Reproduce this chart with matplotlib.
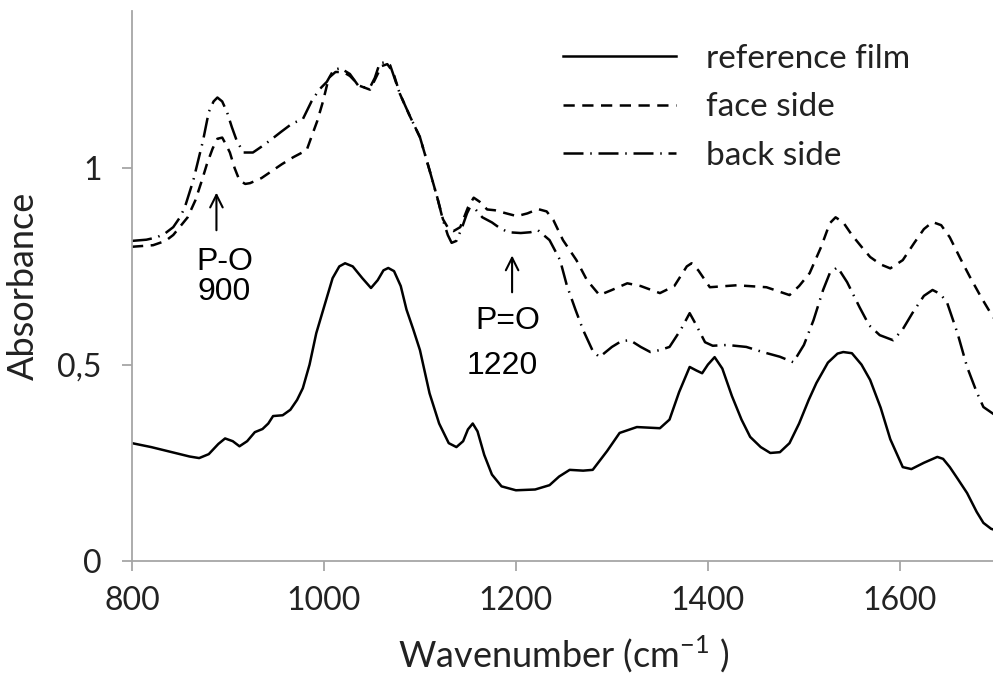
import matplotlib
matplotlib.use("Agg")
import matplotlib.pyplot as plt

# FTIR spectra, wavenumber (cm-1) vs absorbance
ref_x = [800, 820, 840, 860, 870, 880, 890, 897, 905, 912, 920, 928, 936, 942, 947,
         957, 965, 972, 978, 985, 992, 1000, 1009, 1016, 1022, 1030, 1040, 1049, 1056,
         1062, 1067, 1073, 1080, 1086, 1093, 1100, 1110, 1120, 1130, 1138, 1145, 1150,
         1155, 1160, 1167, 1175, 1185, 1200, 1220, 1235, 1245, 1256, 1270, 1280, 1295,
         1308, 1326, 1350, 1360, 1370, 1381, 1388, 1394, 1400, 1407, 1415, 1425, 1435,
         1444, 1455, 1465, 1475, 1485, 1495, 1505, 1513, 1525, 1535, 1541, 1550, 1560,
         1569, 1580, 1590, 1603, 1612, 1625, 1639, 1645, 1652, 1660, 1670, 1680, 1687,
         1695, 1700]
ref_y = [0.300, 0.290, 0.278, 0.266, 0.262, 0.272, 0.298, 0.312, 0.305, 0.292, 0.305,
         0.328, 0.336, 0.350, 0.369, 0.371, 0.385, 0.410, 0.440, 0.500, 0.580, 0.646,
         0.720, 0.750, 0.758, 0.750, 0.720, 0.695, 0.715, 0.740, 0.746, 0.738, 0.700,
         0.640, 0.590, 0.537, 0.427, 0.350, 0.300, 0.290, 0.305, 0.335, 0.350, 0.330,
         0.270, 0.220, 0.190, 0.180, 0.182, 0.193, 0.215, 0.232, 0.230, 0.232, 0.280,
         0.326, 0.341, 0.338, 0.360, 0.430, 0.494, 0.485, 0.478, 0.500, 0.519, 0.490,
         0.420, 0.360, 0.316, 0.290, 0.275, 0.277, 0.300, 0.350, 0.410, 0.453, 0.505,
         0.528, 0.532, 0.529, 0.500, 0.461, 0.390, 0.310, 0.239, 0.234, 0.250, 0.265,
         0.260, 0.239, 0.210, 0.173, 0.125, 0.097, 0.082, 0.078]

face_x = [800, 822, 835, 843, 858, 866, 873, 878, 884, 889, 894, 898, 902, 907, 912,
          918, 923, 935, 944, 956, 968, 982, 987, 993, 999, 1005, 1012, 1020, 1027,
          1037, 1048, 1054, 1060, 1066, 1072, 1079, 1090, 1100, 1110, 1118, 1124, 1130,
          1135, 1142, 1150, 1156, 1162, 1170, 1178, 1190, 1201, 1212, 1223, 1232, 1239,
          1249, 1263, 1274, 1287, 1300, 1316, 1330, 1350, 1365, 1378, 1383, 1390, 1402,
          1430, 1461, 1485, 1495, 1506, 1518, 1527, 1533, 1541, 1550, 1560, 1569, 1580,
          1590, 1603, 1615, 1625, 1634, 1643, 1652, 1663, 1673, 1685, 1697, 1700]
face_y = [0.800, 0.804, 0.815, 0.830, 0.875, 0.918, 0.970, 1.010, 1.050, 1.075, 1.078,
          1.060, 1.040, 1.000, 0.969, 0.960, 0.962, 0.975, 0.990, 1.010, 1.028, 1.046,
          1.080, 1.120, 1.170, 1.230, 1.245, 1.245, 1.235, 1.210, 1.200, 1.230, 1.260,
          1.265, 1.245, 1.190, 1.130, 1.079, 0.995, 0.926, 0.870, 0.845, 0.840, 0.850,
          0.900, 0.925, 0.915, 0.895, 0.893, 0.885, 0.878, 0.885, 0.896, 0.890, 0.868,
          0.817, 0.766, 0.715, 0.677, 0.690, 0.707, 0.700, 0.682, 0.700, 0.750, 0.758,
          0.740, 0.697, 0.702, 0.697, 0.677, 0.700, 0.733, 0.800, 0.860, 0.875, 0.862,
          0.830, 0.800, 0.774, 0.755, 0.745, 0.766, 0.810, 0.845, 0.863, 0.855, 0.824,
          0.770, 0.723, 0.670, 0.621, 0.615]

back_x = [800, 815, 826, 835, 843, 850, 855, 864, 869, 874, 880, 885, 889, 894, 899,
          904, 909, 916, 926, 935, 944, 955, 967, 978, 983, 987, 995, 1003, 1010, 1017,
          1027, 1037, 1048, 1053, 1058, 1064, 1069, 1079, 1090, 1100, 1110, 1118, 1124,
          1129, 1133, 1138, 1144, 1149, 1152, 1158, 1165, 1175, 1183, 1192, 1205, 1215,
          1223, 1235, 1246, 1253, 1262, 1270, 1280, 1287, 1300, 1310, 1319, 1330, 1340,
          1350, 1360, 1372, 1381, 1388, 1397, 1405, 1420, 1440, 1457, 1475, 1489, 1500,
          1510, 1520, 1527, 1535, 1545, 1558, 1568, 1579, 1593, 1603, 1613, 1625, 1634,
          1642, 1649, 1660, 1670, 1680, 1687, 1700]
back_y = [0.815, 0.818, 0.824, 0.835, 0.850, 0.875, 0.900, 0.970, 1.020, 1.070, 1.143,
          1.170, 1.180, 1.170, 1.143, 1.105, 1.071, 1.040, 1.040, 1.055, 1.071, 1.092,
          1.114, 1.125, 1.150, 1.170, 1.200, 1.220, 1.250, 1.255, 1.240, 1.206, 1.206,
          1.230, 1.267, 1.270, 1.262, 1.190, 1.130, 1.079, 0.995, 0.926, 0.868, 0.830,
          0.810, 0.815, 0.850, 0.885, 0.900, 0.895, 0.875, 0.862, 0.848, 0.837, 0.835,
          0.837, 0.842, 0.817, 0.766, 0.702, 0.640, 0.588, 0.535, 0.519, 0.545, 0.560,
          0.562, 0.545, 0.532, 0.537, 0.545, 0.590, 0.631, 0.600, 0.557, 0.548, 0.550,
          0.545, 0.532, 0.520, 0.506, 0.550, 0.613, 0.690, 0.733, 0.748, 0.710, 0.646,
          0.600, 0.575, 0.562, 0.590, 0.631, 0.675, 0.690, 0.680, 0.659, 0.580, 0.494,
          0.430, 0.392, 0.370]

plt.rcParams['font.family'] = ['Lato', 'DejaVu Sans']

fig = plt.figure(figsize=(9.93, 6.78), dpi=100)
ax = fig.add_axes([0.1329, 0.1726, 0.870, 0.811])

ax.plot(ref_x, ref_y, color='black', lw=1.8, label='reference film')
ax.plot(face_x, face_y, color='black', lw=1.8, dashes=(4.5, 3), label='face side')
ax.plot(back_x, back_y, color='black', lw=1.8, dashes=(8, 2.7, 0.6, 2.7), label='back side')

ax.set_xlim(800, 1700)
ax.set_ylim(0, 1.4)
ax.set_xticks([800, 1000, 1200, 1400, 1600])
ax.set_yticks([0, 0.5, 1])
ax.set_yticklabels(['0', '0,5', '1'])

for side in ['top', 'right']:
    ax.spines[side].set_visible(False)
for side in ['left', 'bottom']:
    ax.spines[side].set_color('#a6a6a6')
    ax.spines[side].set_linewidth(1.3)
ax.tick_params(axis='both', direction='out', length=7, width=1.3, color='#a6a6a6',
               labelsize=23, labelcolor='#222222')
ax.tick_params(axis='y', pad=15)
ax.tick_params(axis='x', pad=11)

ax.set_xlabel('Wavenumber (cm$^{\\mathregular{-1}}$ )', fontsize=26, color='#222222', labelpad=13)
ax.set_ylabel('Absorbance', fontsize=26, color='#222222', labelpad=12)

# band assignments
arrow = dict(arrowstyle='->,head_length=0.9,head_width=0.45', lw=1.5, color='black')
ax.annotate('', xy=(888, 0.945), xytext=(888, 0.835), arrowprops=arrow)
ax.text(897, 0.762, 'P-O', fontsize=23, family='Liberation Sans', ha='center', va='center')
ax.text(896, 0.684, '900', fontsize=23, family='Liberation Sans', ha='center', va='center')
ax.annotate('', xy=(1196, 0.785), xytext=(1196, 0.677), arrowprops=arrow)
ax.text(1192, 0.610, 'P=O', fontsize=23, family='Liberation Sans', ha='center', va='center')
ax.text(1186, 0.497, '1220', fontsize=23, family='Liberation Sans', ha='center', va='center')

leg = ax.legend(loc='upper left', bbox_to_anchor=(563 / 993, 1 - 44 / 678),
                bbox_transform=fig.transFigure, frameon=False, fontsize=24,
                handlelength=3.4, handletextpad=0.9, labelspacing=0.55, borderpad=0,
                borderaxespad=0)
for t in leg.get_texts():
    t.set_color('#222222')

fig.savefig('out.png', dpi=100)
